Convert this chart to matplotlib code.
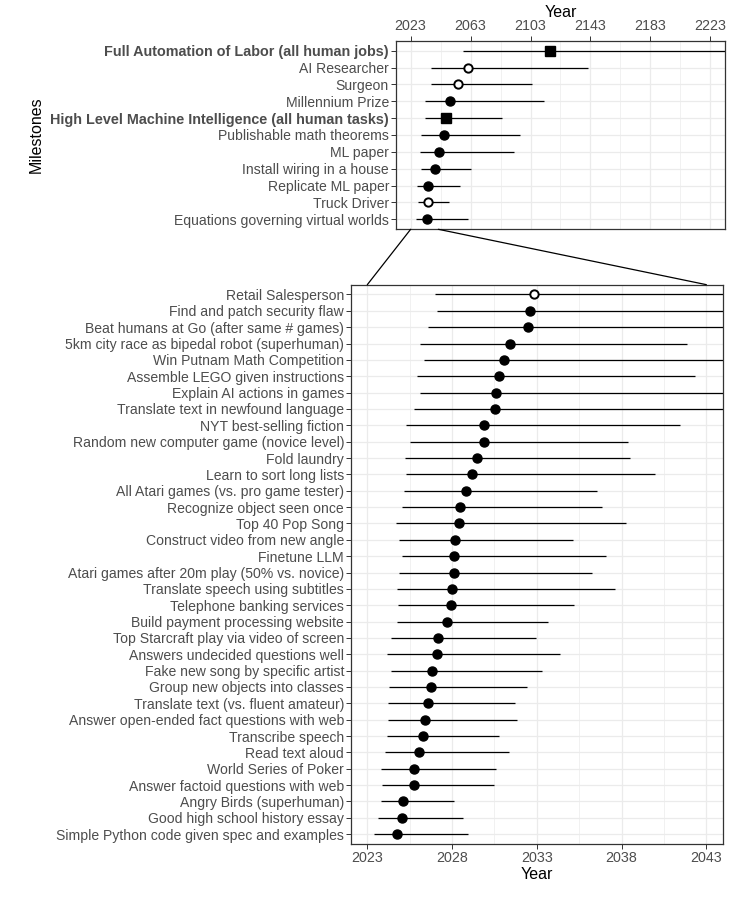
import matplotlib
matplotlib.use("Agg")
import matplotlib.pyplot as plt
from matplotlib.patches import ConnectionPatch
import numpy as np

plt.rcParams['font.family'] = ['Liberation Sans', 'DejaVu Sans']

# ---- data: top panel (long-horizon milestones), listed top to bottom
top_names = ["Full Automation of Labor (all human jobs)", "AI Researcher", "Surgeon",
             "Millennium Prize", "High Level Machine Intelligence (all human tasks)",
             "Publishable math theorems", "ML paper", "Install wiring in a house",
             "Replicate ML paper", "Truck Driver", "Equations governing virtual worlds"]
top_mid = [2116.0, 2061.2, 2054.8, 2049.2, 2046.8, 2045.0, 2042.1, 2039.4, 2034.8, 2034.3, 2034.1]
top_low = [2057.9, 2036.5, 2036.5, 2032.5, 2032.5, 2029.9, 2029.2, 2029.9, 2027.4, 2028.1, 2026.8]
top_high = [2260.0, 2141.2, 2104.3, 2112.3, 2083.7, 2095.7, 2091.7, 2063.0, 2055.7, 2048.3, 2061.0]
top_kind = ["square", "open", "open", "filled", "square", "filled", "filled", "filled",
            "filled", "open", "filled"]

# ---- data: bottom panel (near-term tasks), listed top to bottom
bot_names = ["Retail Salesperson", "Find and patch security flaw",
             "Beat humans at Go (after same # games)",
             "5km city race as bipedal robot (superhuman)", "Win Putnam Math Competition",
             "Assemble LEGO given instructions", "Explain AI actions in games",
             "Translate text in newfound language", "NYT best-selling fiction",
             "Random new computer game (novice level)", "Fold laundry",
             "Learn to sort long lists", "All Atari games (vs. pro game tester)",
             "Recognize object seen once", "Top 40 Pop Song", "Construct video from new angle",
             "Finetune LLM", "Atari games after 20m play (50% vs. novice)",
             "Translate speech using subtitles", "Telephone banking services",
             "Build payment processing website", "Top Starcraft play via video of screen",
             "Answers undecided questions well", "Fake new song by specific artist",
             "Group new objects into classes", "Translate text (vs. fluent amateur)",
             "Answer open-ended fact questions with web", "Transcribe speech",
             "Read text aloud", "World Series of Poker", "Answer factoid questions with web",
             "Angry Birds (superhuman)", "Good high school history essay",
             "Simple Python code given spec and examples"]
bot_mid = [2032.83, 2032.60, 2032.46, 2031.42, 2031.08, 2030.79, 2030.57, 2030.51,
           2029.88, 2029.88, 2029.47, 2029.19, 2028.80, 2028.47, 2028.43, 2028.19,
           2028.13, 2028.09, 2027.98, 2027.96, 2027.68, 2027.15, 2027.11, 2026.82,
           2026.78, 2026.60, 2026.40, 2026.30, 2026.03, 2025.77, 2025.75, 2025.12,
           2025.03, 2024.77]
bot_low = [2027.01, 2027.11, 2026.58, 2026.10, 2026.34, 2025.93, 2026.10, 2025.75,
           2025.28, 2025.52, 2025.22, 2025.28, 2025.16, 2025.05, 2024.69, 2024.87,
           2025.05, 2024.87, 2024.75, 2024.81, 2024.75, 2024.40, 2024.16, 2024.40,
           2024.28, 2024.22, 2024.22, 2024.16, 2024.04, 2023.81, 2023.87, 2023.81,
           2023.63, 2023.39]
bot_high = [2050.0, 2048.0, 2047.0, 2041.86, 2046.0, 2042.33, 2046.0, 2045.0,
            2041.45, 2038.36, 2038.48, 2039.95, 2036.53, 2036.82, 2038.24, 2035.11,
            2037.06, 2036.23, 2037.59, 2035.17, 2033.64, 2032.93, 2034.35, 2033.29,
            2032.40, 2031.69, 2031.81, 2030.75, 2031.34, 2030.57, 2030.45, 2028.09,
            2028.62, 2028.92]
bot_kind = ["open"] + ["filled"] * 33

top_ticks = [2023, 2063, 2103, 2143, 2183, 2223]
bot_ticks = [2023, 2028, 2033, 2038, 2043]

TXT = "#4D4D4D"
FRAME = "#333333"
GRID = "#EBEBEB"


def style_axis(ax, n):
    ax.set_facecolor("white")
    for s in ax.spines.values():
        s.set_color(FRAME)
        s.set_linewidth(0.9)
    ax.grid(True, which="major", color=GRID, lw=0.9, zorder=0)
    ax.grid(True, which="minor", axis="x", color=GRID, lw=0.5, zorder=0)
    ax.set_axisbelow(True)
    ax.set_ylim(0.4, n + 0.6)
    ax.tick_params(axis="both", which="major", color=FRAME, length=3.3, width=0.7,
                   labelcolor=TXT, labelsize=10.1, pad=1.5)
    ax.tick_params(axis="x", which="major", labelsize=10.3, pad=1.5)
    ax.tick_params(axis="x", which="minor", length=0)


def draw(ax, names, mid, low, high, kind):
    n = len(names)
    ys = np.arange(n, 0, -1)
    ax.hlines(ys, low, high, color="black", lw=0.9, zorder=2)
    for y, m, k in zip(ys, mid, kind):
        if k == "square":
            ax.plot(m, y, marker="s", ms=7.5, color="black", zorder=3)
        elif k == "open":
            ax.plot(m, y, marker="o", ms=6, mfc="white", mec="black", mew=1.4, zorder=3)
        else:
            ax.plot(m, y, marker="o", ms=6.5, color="black", zorder=3)
    ax.set_yticks(ys)
    ax.set_yticklabels(names)
    style_axis(ax, n)


fig = plt.figure(figsize=(7.46, 9.02), dpi=100)
ax1 = fig.add_axes([0.5304, 0.7458, 0.4418, 0.2091])
ax2 = fig.add_axes([0.4701, 0.0643, 0.4995, 0.6201])

draw(ax1, top_names, top_mid, top_low, top_high, top_kind)
ax1.set_xlim(2013, 2233)
ax1.set_xticks(top_ticks)
ax1.set_xticks(np.arange(2043, 2223, 40), minor=True)
ax1.xaxis.tick_top()
ax1.xaxis.set_label_position("top")
ax1.tick_params(axis="x", which="major", pad=2.5)
ax1.set_xlabel("Year", fontsize=11.5, color="black", labelpad=1.5)
ax1.set_ylabel("Milestones", fontsize=11.5, color="black", labelpad=5)
for lab in ax1.get_yticklabels():
    if lab.get_text().startswith(("Full", "High")):
        lab.set_fontweight("bold")
        lab.set_fontsize(10.4)

draw(ax2, bot_names, bot_mid, bot_low, bot_high, bot_kind)
ax2.set_xlim(2022.02, 2044)
ax2.set_xticks(bot_ticks)
ax2.set_xticks(np.arange(2025.5, 2044, 5), minor=True)
ax2.set_xlabel("Year", fontsize=11.5, color="black", labelpad=1.5)

# zoom connectors between the two panels
for xa, xb in [(2023, 2023), (2041.5, 2043)]:
    con = ConnectionPatch(xyA=(xa, 0.4), coordsA="data", axesA=ax1,
                          xyB=(xb, 34.6), coordsB="data", axesB=ax2,
                          color="black", lw=0.9)
    fig.add_artist(con)

fig.savefig("out.png", dpi=100)
